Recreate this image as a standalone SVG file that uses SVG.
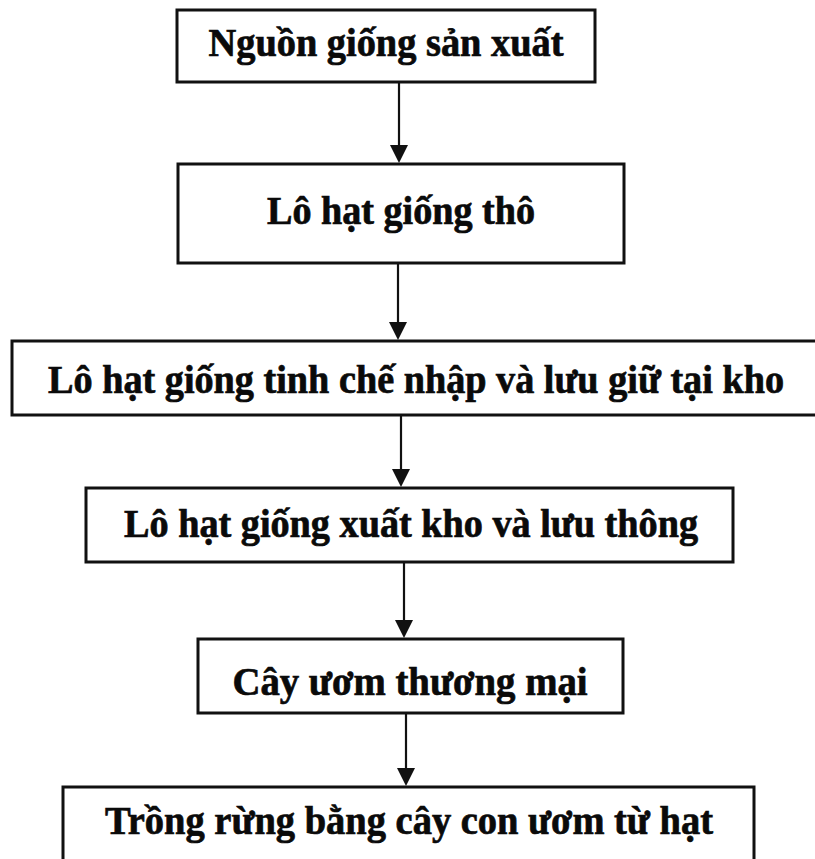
<svg xmlns="http://www.w3.org/2000/svg" width="815" height="859" viewBox="0 0 815 859">
<style>
.box{fill:#fff;stroke:#111;stroke-width:3}
.lbl{font-family:"Liberation Serif","Times New Roman",serif;font-weight:bold;font-size:39px;fill:#0a0a0a;stroke:#0a0a0a;stroke-width:0.7;text-anchor:middle}
.conn{stroke:#111;stroke-width:2.2;fill:none}
.head{fill:#111}
</style>
<rect width="815" height="859" fill="#fff"/>
<g id="connectors">
<line class="conn" x1="399" y1="82" x2="399" y2="146"/><polygon class="head" points="390,145 408,145 399,163"/>
<line class="conn" x1="398" y1="263" x2="398" y2="323"/><polygon class="head" points="389,322 407,322 398,340"/>
<line class="conn" x1="401" y1="415" x2="401" y2="470"/><polygon class="head" points="392,469 410,469 401,487"/>
<line class="conn" x1="404" y1="562" x2="404" y2="621"/><polygon class="head" points="395,620 413,620 404,638"/>
<line class="conn" x1="406" y1="713" x2="406" y2="769"/><polygon class="head" points="397,768 415,768 406,786"/>
</g>
<g id="n1"><rect class="box" x="177" y="10" width="418" height="72"/><text class="lbl" x="386" y="56" textLength="355" lengthAdjust="spacingAndGlyphs">Nguồn giống sản xuất</text></g>
<g id="n2"><rect class="box" x="178" y="164" width="446" height="99"/><text class="lbl" x="401" y="224" textLength="268" lengthAdjust="spacingAndGlyphs">Lô hạt giống thô</text></g>
<g id="n3"><path class="box" d="M815,341 H12 V415 H815"/><text class="lbl" x="416" y="393" textLength="736" lengthAdjust="spacingAndGlyphs">Lô hạt giống tinh chế nhập và lưu giữ tại kho</text></g>
<g id="n4"><rect class="box" x="86" y="488" width="647" height="74"/><text class="lbl" x="411" y="537" textLength="574" lengthAdjust="spacingAndGlyphs">Lô hạt giống xuất kho và lưu thông</text></g>
<g id="n5"><rect class="box" x="198" y="639" width="425" height="74"/><text class="lbl" x="410" y="695" textLength="355" lengthAdjust="spacingAndGlyphs">Cây ươm thương mại</text></g>
<g id="n6"><path class="box" d="M63,859 V787 H754 V859"/><text class="lbl" x="409" y="834" textLength="608" lengthAdjust="spacingAndGlyphs">Trồng rừng bằng cây con ươm từ hạt</text></g>
</svg>
